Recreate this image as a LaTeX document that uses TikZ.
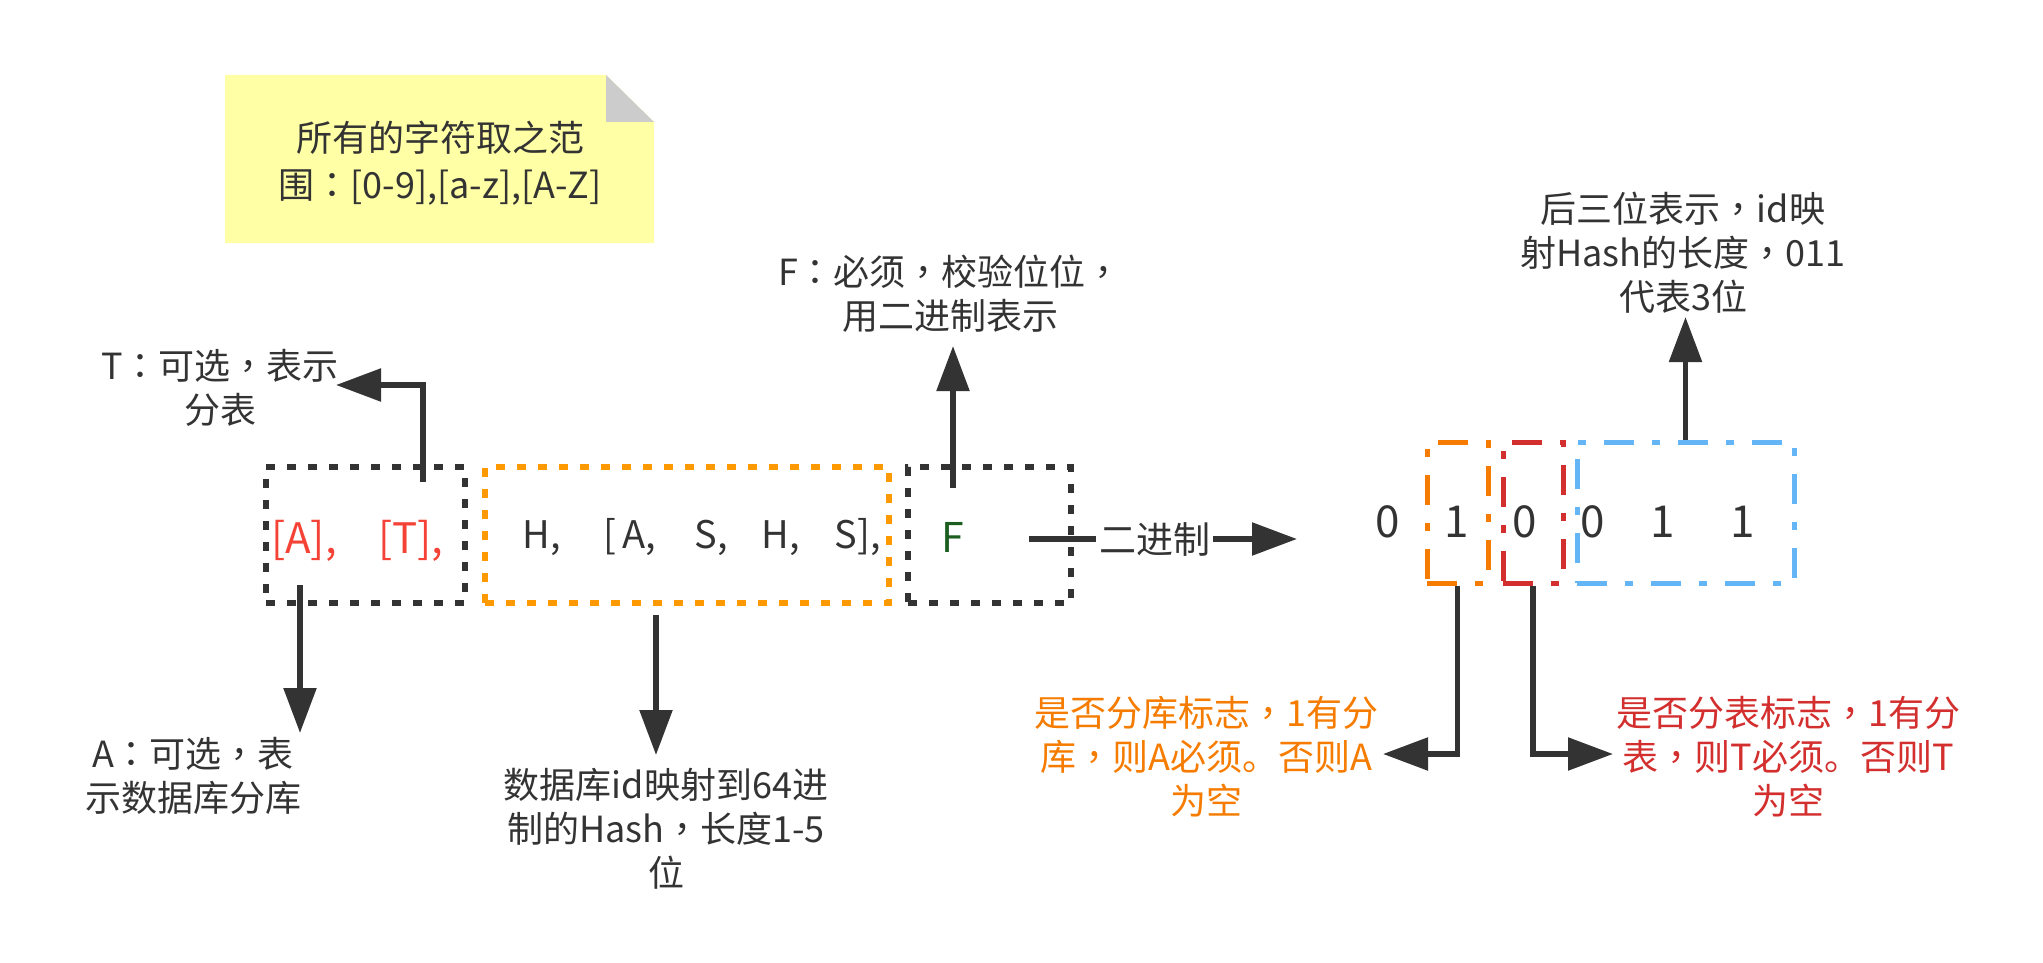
\documentclass[tikz,border=0pt]{standalone}
\usepackage{fontspec}
\setmainfont{Noto Sans CJK SC}
% centred full-width colon and comma
\newfontfamily\punctfont{Noto Sans CJK TC}
\newcommand{\zcolon}{{\punctfont ：}}
\newcommand{\zcomma}{{\punctfont ，}}
\usetikzlibrary{arrows.meta}
\definecolor{ink}{HTML}{333333}
\definecolor{notefill}{HTML}{FFFFA6}
\definecolor{foldgray}{HTML}{CCCCCC}
\definecolor{redtxt}{HTML}{F44336}
\definecolor{dotorange}{HTML}{FF9900}
\definecolor{flagorange}{HTML}{F57C00}
\definecolor{flagred}{HTML}{D32F2F}
\definecolor{lenblue}{HTML}{64B5F6}
\definecolor{fgreen}{HTML}{1B5E20}
\begin{document}
\begin{tikzpicture}[x=1pt,y=-1pt,
  lbl/.style={text=ink, font=\fontsize{36}{44}\selectfont, align=center, inner sep=0pt},
  rowtxt/.style={text=ink, font=\fontsize{38}{44}\selectfont, inner sep=0pt, anchor=base},
  bit/.style={text=ink, font=\fontsize{44}{50}\selectfont, inner sep=0pt, anchor=base},
  arr/.style={draw=ink, line width=5.5pt, -{Triangle[length=45pt,width=32pt]}},
  dotbox/.style={draw=#1, line width=5.5pt, dash pattern=on 9pt off 12pt, inner sep=0pt},
  dashdotbox/.style={draw=#1, line width=5pt, dash pattern=on 30pt off 18pt on 8pt off 18pt, inner sep=0pt},
]
\useasboundingbox (0,0) rectangle (2043,963);

% sticky note with folded corner
\fill[notefill] (225,75) -- (606,75) -- (654,122) -- (654,243) -- (225,243) -- cycle;
\fill[foldgray] (606,75) -- (654,122) -- (606,122) -- cycle;
\node[lbl, font=\fontsize{36}{47}\selectfont] (note) at (440,163) {所有的字符取之范\\围\zcolon[0-9],[a-z],[A-Z]};

% id layout boxes
\node[dotbox=ink, minimum width=199pt, minimum height=136pt] (boxAT) at (365.5,535) {};
\node[dotbox=dotorange, minimum width=404pt, minimum height=136pt] (boxHash) at (687,535) {};
\node[dotbox=ink, minimum width=163pt, minimum height=136pt] (boxF) at (989.5,535) {};

% id fields
\node[text=redtxt, font=\fontsize{42}{50}\selectfont, inner sep=0pt, anchor=base] (fieldA) at (304,553) {[A],};
\node[text=redtxt, font=\fontsize{42}{50}\selectfont, inner sep=0pt, anchor=base] (fieldT) at (411,553) {[T],};
\node[rowtxt] (h1) at (542,548) {H,};
\node[rowtxt] (h2) at (630,548) {[\,A,};
\node[rowtxt] (h3) at (711,548) {S,};
\node[rowtxt] (h4) at (781,548) {H,};
\node[rowtxt] (h5) at (858,548) {S],};
\node[text=fgreen, font=\fontsize{41}{50}\selectfont, inner sep=0pt, anchor=base] (fieldF) at (953,552) {F};

% binary form of F
\node[dashdotbox=flagorange, minimum width=61pt, minimum height=141pt] (boxOr) at (1457.5,512.5) {};
\node[dashdotbox=flagred, minimum width=60pt, minimum height=141pt] (boxRd) at (1533,512.5) {};
\node[dashdotbox=lenblue, minimum width=217pt, minimum height=141pt] (boxBl) at (1685.5,512.5) {};
\node[bit] (b1) at (1388,537) {0};
\node[bit] (b2) at (1457,537) {1};
\node[bit] (b3) at (1525,537) {0};
\node[bit] (b4) at (1593,537) {0};
\node[bit] (b5) at (1663,537) {1};
\node[bit] (b6) at (1743,537) {1};

% explanations
\node[lbl] (tLabel) at (220,388) {T\zcolon 可选\zcomma 表示\\分表};
\node[lbl] (aLabel) at (193,776) {A\zcolon 可选\zcomma 表\\示数据库分库};
\node[lbl] (hLabel) at (666,829) {数据库id映射到64进\\制的Hash\zcomma 长度1-5\\位};
\node[lbl] (fLabel) at (950,294) {F\zcolon 必须\zcomma 校验位位\zcomma\\用二进制表示};
\node[lbl] (lenLabel) at (1683,253) {后三位表示\zcomma id映\\射Hash的长度\zcomma 011\\代表3位};
\node[lbl, text=flagorange] (orLabel) at (1206,757) {是否分库标志\zcomma 1有分\\库\zcomma 则A必须。否则A\\为空};
\node[lbl, text=flagred] (rdLabel) at (1788,757) {是否分表标志\zcomma 1有分\\表\zcomma 则T必须。否则T\\为空};

% connector end points
\coordinate (tStart) at (423,482);
\coordinate (tTip) at (336,385);
\coordinate (aStart) at (300,585);
\coordinate (aTip) at (300,733);
\coordinate (hStart) at (656,615);
\coordinate (hTip) at (656,755);
\coordinate (fStart) at (953,488);
\coordinate (fTip) at (953,346);
\coordinate (binStart) at (1029,539);
\coordinate (binTip) at (1297,539);
\coordinate (lenTip) at (1685.5,317);
\coordinate (orTip) at (1383,754);
\coordinate (rdTip) at (1613,754);

% connectors
\draw[arr] (tStart) |- (tTip);
\draw[arr] (aStart) -- (aTip);
\draw[arr] (hStart) -- (hTip);
\draw[arr] (fStart) -- (fTip);
\draw[arr] (binStart) -- node[pos=0.47, lbl, fill=white, inner sep=3pt, font=\fontsize{37}{44}\selectfont] (binLabel) {二进制} (binTip);
\draw[arr] (boxBl.north) -- (lenTip);
\draw[arr] (boxOr.south) |- (orTip);
\draw[arr] (boxRd.south) |- (rdTip);
\end{tikzpicture}
\end{document}
